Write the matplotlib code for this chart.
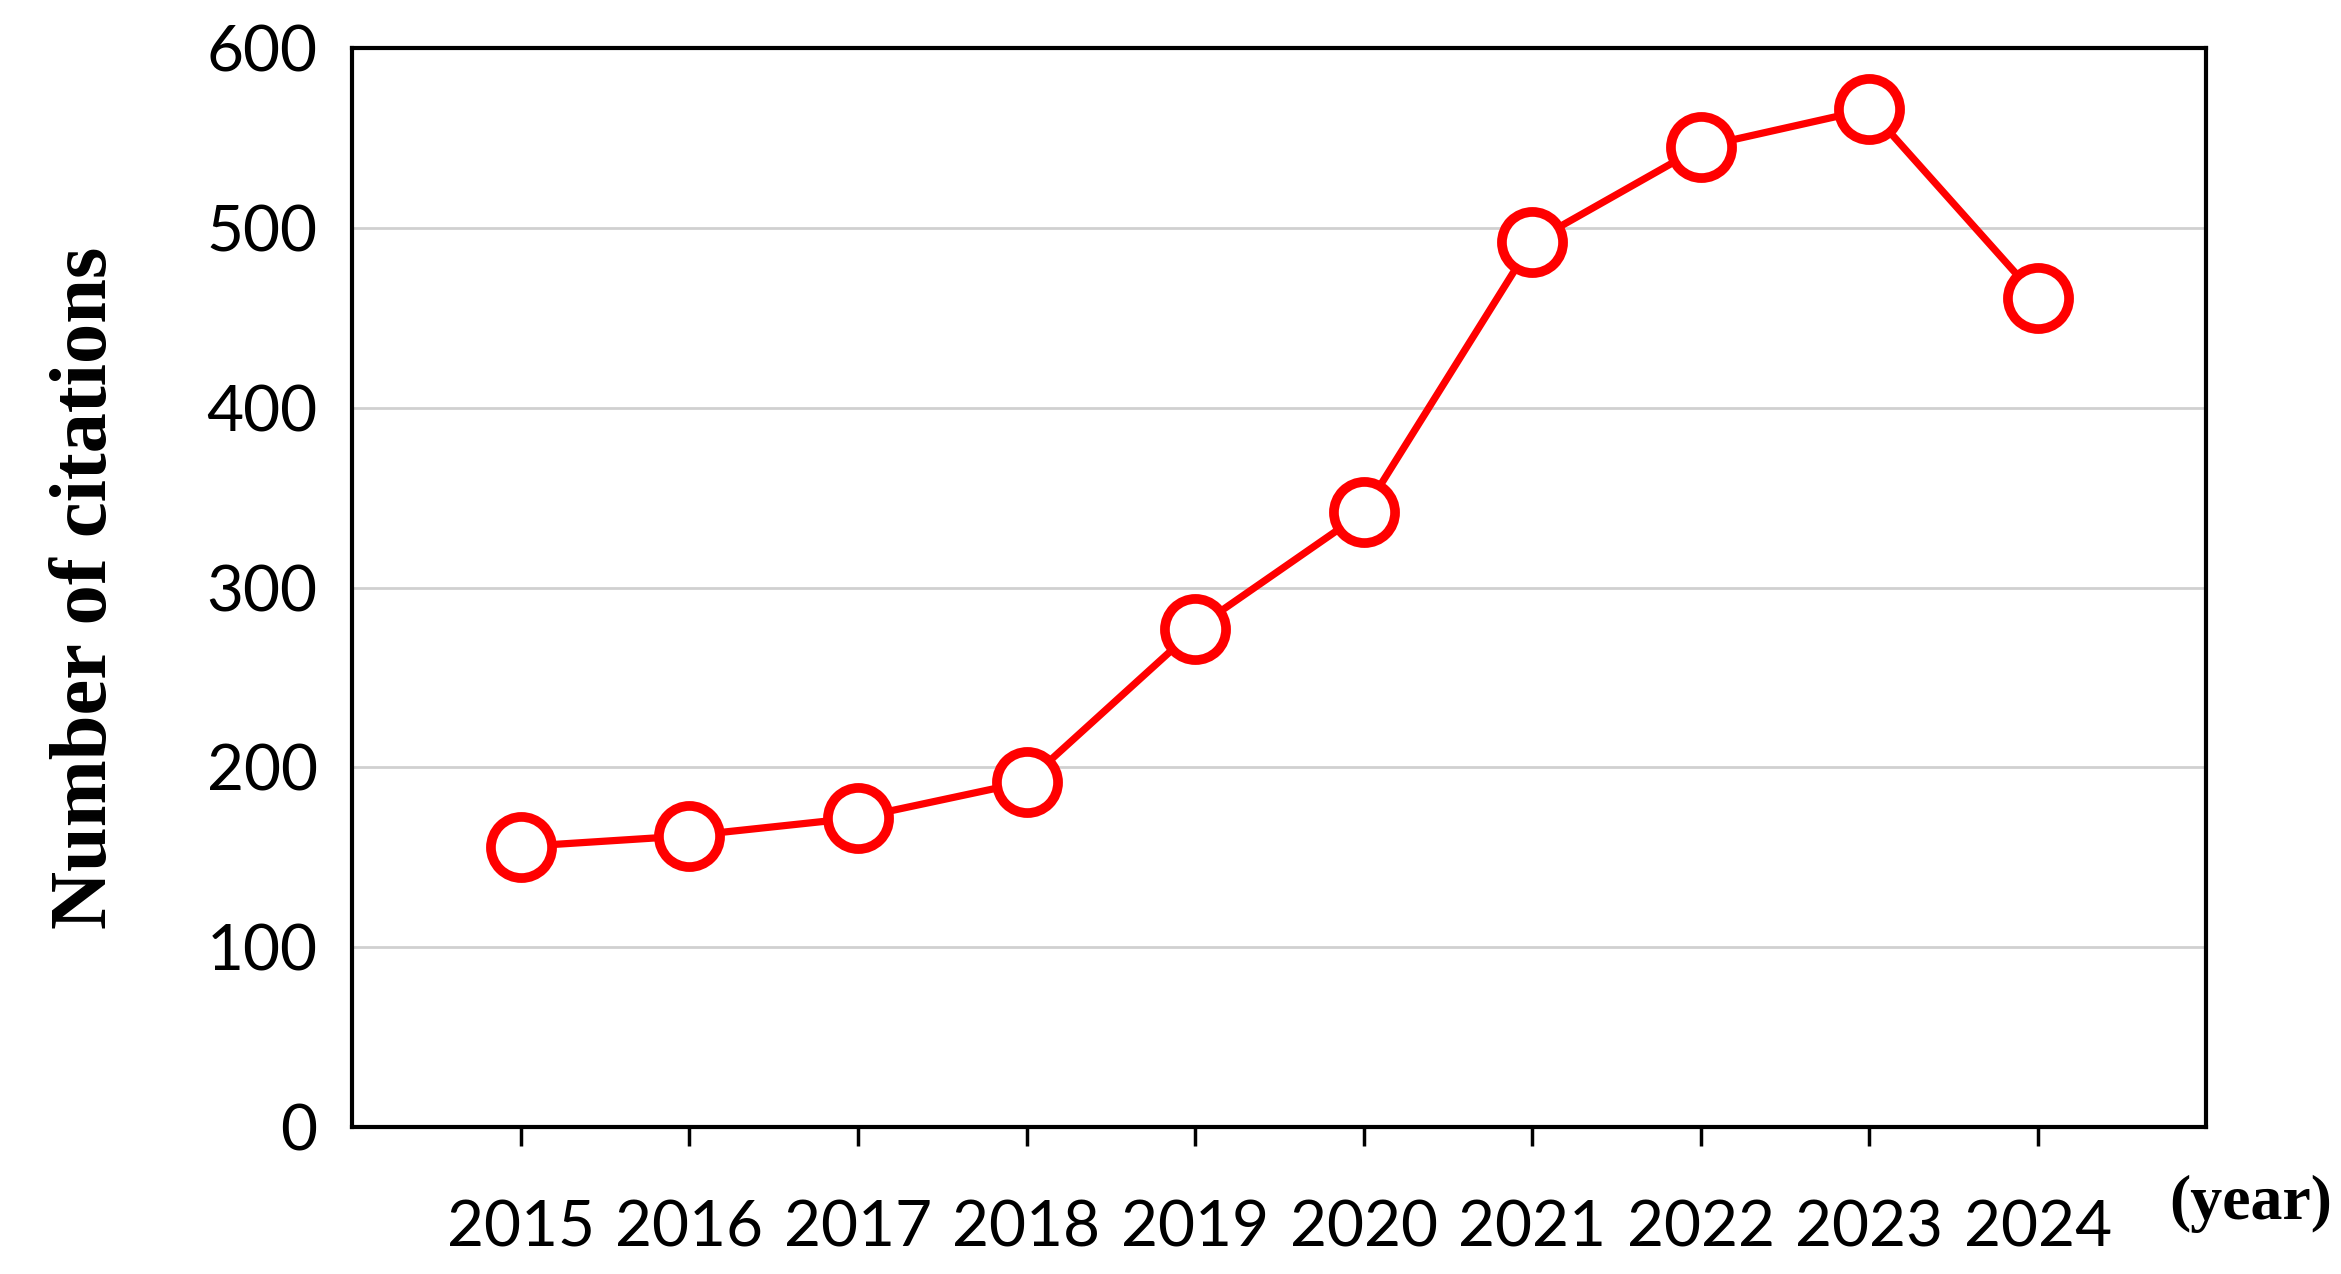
import matplotlib
matplotlib.use("Agg")
import matplotlib.pyplot as plt

years = [2015, 2016, 2017, 2018, 2019, 2020, 2021, 2022, 2023, 2024]
citations = [156, 162, 172, 192, 277, 342, 492, 545, 566, 461]
yticks = [0, 100, 200, 300, 400, 500, 600]

fig = plt.figure(figsize=(23.41, 12.74), dpi=100)
ax = fig.add_axes([0.1505, 0.1153, 0.792, 0.847])
ax.plot(years, citations, color="#ff0000", lw=5.2, marker="o", ms=44,
        mfc="white", mec="#ff0000", mew=7, zorder=3)
ax.set_xlim(2014, 2025)
ax.set_ylim(0, 600)
ax.set_yticks(yticks)
ax.set_xticks(years)
ax.grid(axis="y", color="#d0d0d0", lw=2)
ax.set_axisbelow(True)
for s in ax.spines.values():
    s.set_linewidth(3)
ax.tick_params(axis="y", length=0, pad=25, labelsize=46)
ax.tick_params(axis="x", length=14, width=2.5, direction="out", pad=38, labelsize=46)
for lab in ax.get_xticklabels() + ax.get_yticklabels():
    lab.set_family(["Lato", "DejaVu Sans"])
ax.set_ylabel("Number of citations", family="Liberation Serif", fontweight="bold",
              fontsize=58, labelpad=60)
fig.text(0.996, 0.055, "(year)", family="Liberation Serif", fontweight="bold",
         fontsize=46, ha="right", va="center")
fig.savefig("out.png", dpi=100)
